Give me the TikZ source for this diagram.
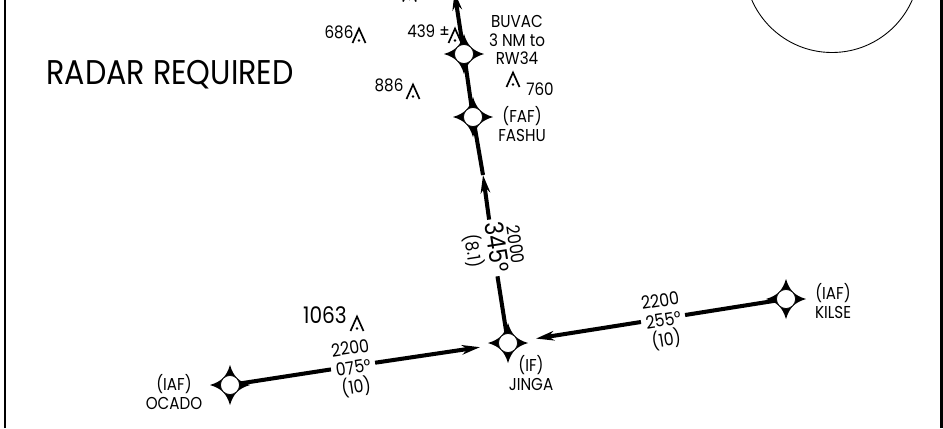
\documentclass[tikz,border=0pt]{standalone}
\usepackage{fontspec}
\setmainfont[FakeStretch=0.88]{Poppins}
\usetikzlibrary{arrows.meta}
\newcommand{\lbl}{\fontsize{9.8}{10.6}\selectfont}
\newcommand{\leglb}{\fontsize{10.2}{11.2}\selectfont}
\tikzset{
route/.style={line width=2.3pt},
tip/.style={-{Stealth[length=0.36cm, width=0.19cm, inset=0.11cm]}},
fixpt/.style={circle, fill=white, draw=black, line width=0.4pt, minimum size=0.38cm, inner sep=0pt},
leglbl/.style={align=center, font=\leglb, inner xsep=0.06cm, inner ysep=0pt},
txt/.style={align=center, font=\lbl},
frameln/.style={line width=1.4pt},
fixstar/.pic={\fill (0,0.4) .. controls (0.07,0.17) and (0.17,0.07) .. (0.4,0) .. controls (0.17,-0.07) and (0.07,-0.17) .. (0,-0.4) .. controls (-0.07,-0.17) and (-0.17,-0.07) .. (-0.4,0) .. controls (-0.17,0.07) and (-0.07,0.17) .. (0,0.4) -- cycle;},
obst/.pic={\draw[line width=0.95pt] (-0.13,-0.14) -- (0,0.15) -- (0.13,-0.14); \fill (0,-0.09) circle (0.028);}
}

\begin{document}
\begin{tikzpicture}
\useasboundingbox (0,0) rectangle (18.86,8.56);
\clip (0,0) rectangle (18.86,8.56);

% frame and circle
\coordinate (fl1) at (0.105,0);
\coordinate (fl2) at (0.105,8.56);
\coordinate (fr1) at (18.83,0);
\coordinate (fr2) at (18.83,8.56);
\draw[frameln] (fl1) -- (fl2);
\draw[frameln] (fr1) -- (fr2);
\node[circle, draw=black, line width=0.5pt, minimum size=3.5cm] (msa) at (16.64,9.26) {};

% fixes
\pic at (4.6,0.86) {fixstar};
\pic at (10.16,1.70) {fixstar};
\pic at (15.72,2.58) {fixstar};
\pic at (9.46,6.22) {fixstar};
\pic at (9.28,7.48) {fixstar};
\node[fixpt] (ocado) at (4.6,0.86) {};
\node[fixpt] (jinga) at (10.16,1.70) {};
\node[fixpt] (kilse) at (15.72,2.58) {};
\node[fixpt] (fashu) at (9.46,6.22) {};
\node[fixpt] (buvac) at (9.28,7.48) {};

% leg labels
\node[leglbl, rotate=8.6] (legw) at (7.06,1.24) {\rule{0pt}{11pt}2200\\075°\\(10)};
\node[leglbl, rotate=8.9] (lege) at (13.26,2.19) {\rule{0pt}{11pt}2200\\255°\\(10)};
\node[leglbl, rotate=-81.2] (legs) at (9.86,3.60) {2000\\[1pt]{\fontsize{14.5}{13}\selectfont 345°}\\[1pt](8.1)};

% connectors
\coordinate (mid) at (9.66,5.06);
\coordinate (top) at (9.09,8.72);
\draw[route] (ocado) -- (legw);
\draw[route, tip, shorten >=0.37cm] (legw) -- (jinga);
\draw[route] (kilse) -- (lege);
\draw[route, tip, shorten >=0.37cm] (lege) -- (jinga);
\draw[route] (jinga) -- (legs);
\draw[route, tip] (legs) -- (mid);
\draw[route] (mid) -- (fashu);
\draw[route] (fashu) -- (buvac);
\draw[route, tip] (buvac) -- (top);

% obstacles
\pic at (7.18,7.84) {obst};
\pic at (9.10,7.84) {obst};
\pic at (8.26,6.72) {obst};
\pic at (10.26,6.96) {obst};
\pic at (7.14,2.08) {obst};
\pic at (8.19,8.67) {obst};

% texts
\node[font=\fontsize{19.5}{20}\selectfont] (radar) at (3.40,7.06) {RADAR REQUIRED};
\node[txt] (e686) at (6.78,7.92) {686};
\node[txt] (e439) at (8.57,7.94) {439 ±};
\node[txt] (e886) at (7.78,6.86) {886};
\node[txt] (e760) at (10.80,6.78) {760};
\node[font=\fontsize{13}{14}\selectfont] (e1063) at (6.5,2.26) {1063};
\node[txt] (tbuvac) at (10.34,7.76) {BUVAC\\3 NM to\\RW34};
\node[txt] (tfashu) at (10.44,6.08) {(FAF)\\FASHU};
\node[txt] (tocado) at (3.48,0.72) {(IAF)\\OCADO};
\node[txt] (tjinga) at (10.62,1.10) {(IF)\\JINGA};
\node[txt] (tkilse) at (16.66,2.54) {(IAF)\\KILSE};
\end{tikzpicture}
\end{document}
